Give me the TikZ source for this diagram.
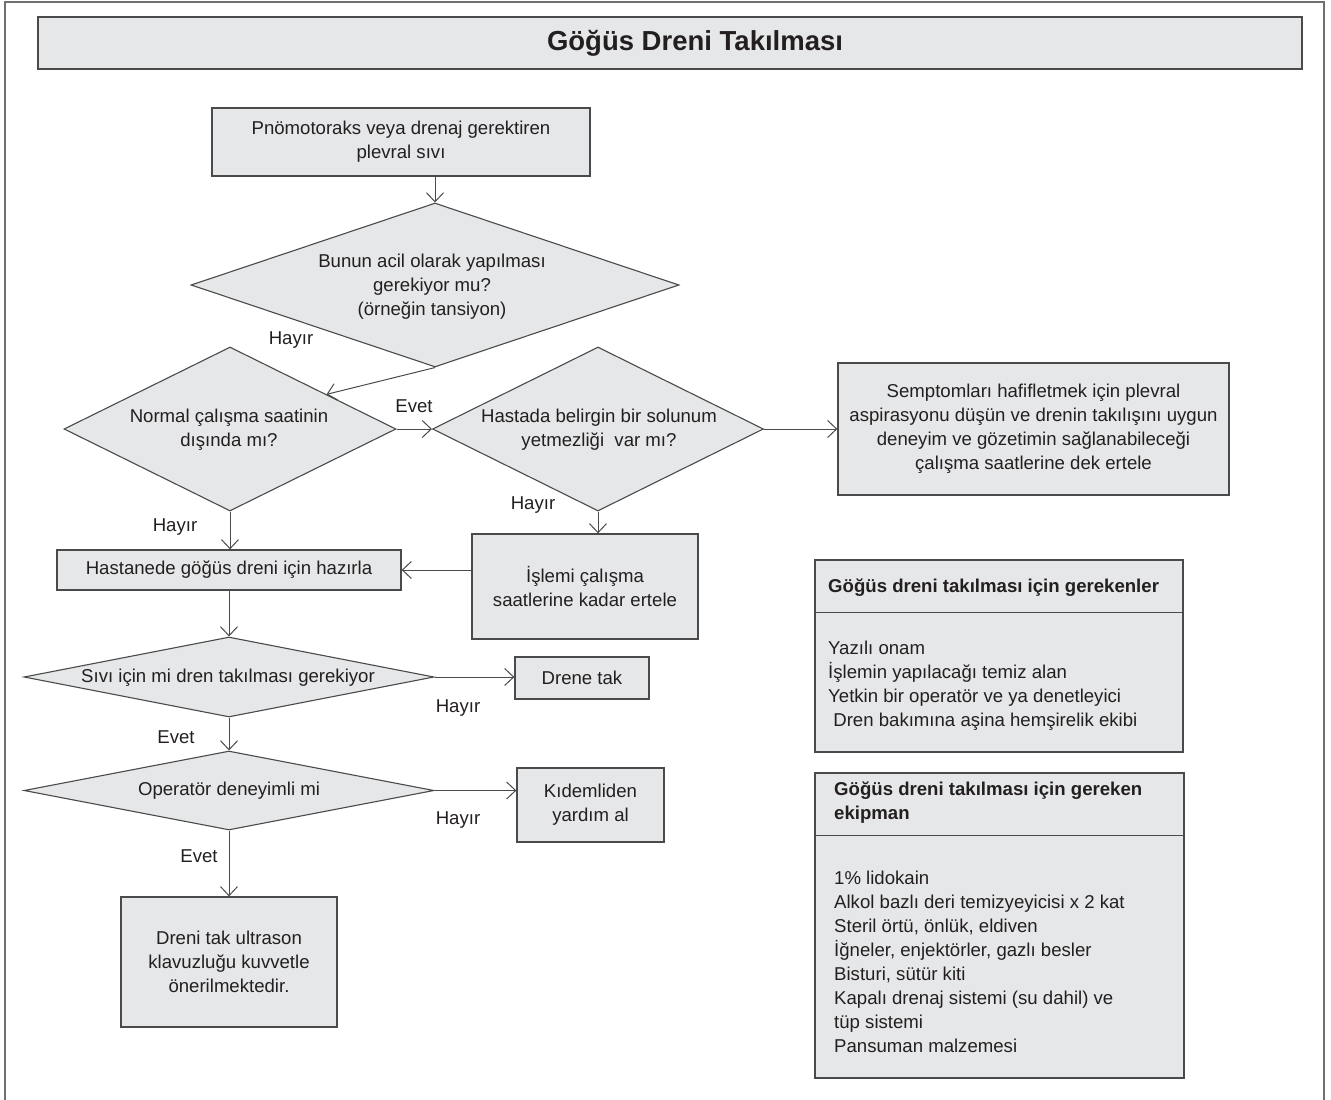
\documentclass[tikz,border=0pt]{standalone}
\usepackage{fontspec}
\setmainfont{Liberation Sans}
\usetikzlibrary{shapes.geometric,arrows.meta,calc}
\definecolor{fillc}{HTML}{E6E7E8}
\definecolor{linec}{HTML}{4A4A4A}
\definecolor{framec}{HTML}{707070}
\definecolor{textc}{HTML}{231F20}
\begin{document}
\begin{tikzpicture}[x=1pt,y=-1pt,
  base/.style={font=\fontsize{18.6}{24}\selectfont, text=textc},
  box/.style={base, align=center, draw=linec, fill=fillc, line width=1.3pt, inner sep=0pt},
  dia/.style={diamond, draw=linec, fill=fillc, line width=1.1pt, inner sep=0pt},
  txt/.style={base, align=center, inner sep=0pt},
  ltxt/.style={base, align=left, inner sep=0pt, anchor=west},
  lbl/.style={base, inner sep=0pt},
  arr/.style={draw=linec, line width=1pt, -{Straight Barb[length=9pt,width=17pt]}},
  sep/.style={draw=linec, line width=1.3pt}
  ]
\useasboundingbox (0,0) rectangle (1331,1100);
% outer frame (open at the bottom)
\draw[framec, line width=1.5pt] (5,1110) -- (5,2) -- (1324,2) -- (1324,1110);

% title
\node[box, minimum width=1264pt, minimum height=52pt] (titlebox) at (670,43) {};
\node[txt, font=\bfseries\fontsize{27.5}{30}\selectfont] (title) at (695,43) {Göğüs Dreni Takılması};

% flow nodes
\node[box, minimum width=378pt, minimum height=68pt] (start) at (401,142)
  {Pnömotoraks veya drenaj gerektiren\\plevral sıvı};

\node[dia, minimum width=488pt, minimum height=164pt] (d1) at (435,285) {};
\node[txt] (d1t) at (432,287) {Bunun acil olarak yapılması\\gerekiyor mu?\\(örneğin tansiyon)};

\node[dia, minimum width=332pt, minimum height=164pt] (d2) at (230,429) {};
\node[txt] (d2t) at (229,430) {Normal çalışma saatinin\\dışında mı?};

\node[dia, minimum width=331pt, minimum height=164pt] (d3) at (598,429) {};
\node[txt] (d3t) at (599,430) {Hastada belirgin bir solunum\\yetmezliği\ \ var mı?};

\node[box, minimum width=391pt, minimum height=132pt] (sympt) at (1033.5,429)
  {Semptomları hafifletmek için plevral\\aspirasyonu düşün ve drenin takılışını uygun\\deneyim ve gözetimin sağlanabileceği\\çalışma saatlerine dek ertele};

\node[box, minimum width=344pt, minimum height=40pt] (hast) at (229,570)
  {Hastanede göğüs dreni için hazırla};

\node[box, minimum width=226pt, minimum height=105pt] (islemi) at (585,586.5)
  {İşlemi çalışma\\saatlerine kadar ertele};

\node[dia, minimum width=410pt, minimum height=80pt] (d4) at (229,677) {};
\node[txt] (d4t) at (228,678) {Sıvı için mi dren takılması gerekiyor};

\node[box, minimum width=134pt, minimum height=42pt] (drene) at (582,678) {Drene tak};

\node[dia, minimum width=410pt, minimum height=79pt] (d5) at (229,790.5) {};
\node[txt] (d5t) at (229,791) {Operatör deneyimli mi};

\node[box, minimum width=147pt, minimum height=74pt] (kidem) at (590.5,805)
  {Kıdemliden\\yardım al};

\node[box, minimum width=216pt, minimum height=130pt] (final) at (229,962)
  {Dreni tak ultrason\\klavuzluğu kuvvetle\\önerilmektedir.};

% connectors
\draw[arr] (d1.north |- start.south) -- (d1.north);
\coordinate (d2in) at ($(d2.north)!0.58!(d2.east)$);
\draw[arr] (d1.south) -- (d2in);
\draw[arr] (d2.east) -- (d3.west);
\draw[arr] (d3.east) -- (sympt.west);
\draw[arr] (d3.south) -- (d3.south |- islemi.north);
\draw[arr] (hast.east -| islemi.west) -- (hast.east);
\draw[arr] (d2.south) -- (d2.south |- hast.north);
\draw[arr] (hast.south) -- (d4.north);
\draw[arr] (d4.east) -- (d4.east -| drene.west);
\draw[arr] (d4.south) -- (d5.north);
\draw[arr] (d5.east) -- (d5.east -| kidem.west);
\draw[arr] (d5.south) -- (final.north);

% connector labels
\node[lbl] (l1) at (291,340) {Hayır};
\node[lbl] (l2) at (175,527) {Hayır};
\node[lbl] (l3) at (414,406) {Evet};
\node[lbl] (l4) at (533,505) {Hayır};
\node[lbl] (l5) at (458,708) {Hayır};
\node[lbl] (l6) at (176,737) {Evet};
\node[lbl] (l7) at (458,820) {Hayır};
\node[lbl] (l8) at (199,856) {Evet};

% requirement boxes
\node[box, minimum width=368pt, minimum height=192pt] (req) at (999,656) {};
\draw[sep] ($(req.north west)+(0,53)$) -- ($(req.north east)+(0,53)$);
\node[ltxt, font=\bfseries\fontsize{18.6}{24}\selectfont] (reqh) at (828,588)
  {Göğüs dreni takılması için gerekenler};
\node[ltxt] (reqb) at (828,686)
  {Yazılı onam\\İşlemin yapılacağı temiz alan\\Yetkin bir operatör ve ya denetleyici\\\ Dren bakımına aşina hemşirelik ekibi};

\node[box, minimum width=369pt, minimum height=305pt] (equip) at (999.5,925.5) {};
\draw[sep] ($(equip.north west)+(0,63)$) -- ($(equip.north east)+(0,63)$);
\node[ltxt, font=\bfseries\fontsize{18.6}{24}\selectfont] (equiph) at (834,803)
  {Göğüs dreni takılması için gereken\\ekipman};
\node[ltxt] (equipb) at (834,961.5)
  {1\% lidokain\\Alkol bazlı deri temizyeyicisi x 2 kat\\Steril örtü, önlük, eldiven\\İğneler, enjektörler, gazlı besler\\Bisturi, sütür kiti\\Kapalı drenaj sistemi (su dahil) ve\\tüp sistemi\\Pansuman malzemesi};
\end{tikzpicture}
\end{document}
